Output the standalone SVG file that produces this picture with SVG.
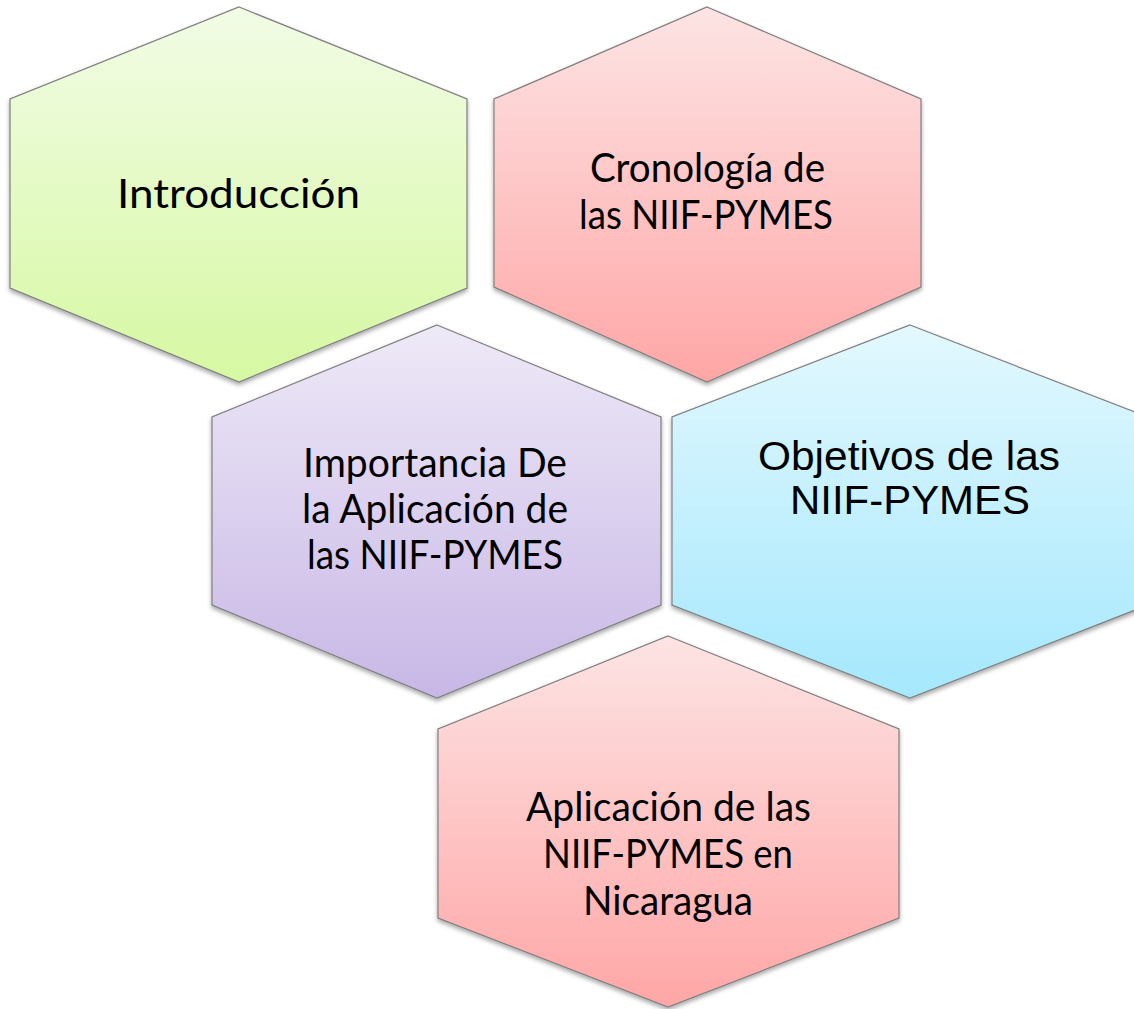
<svg xmlns="http://www.w3.org/2000/svg" width="1134" height="1009" viewBox="0 0 1134 1009">
<style>
.hex{stroke:#7f7f7f;stroke-width:1.2;filter:url(#sh)}
.c{font-family:Lato,"Open Sans","Noto Sans",sans-serif;font-size:41px;fill:#000;text-anchor:middle}
.a{font-family:"Liberation Sans",Arial,sans-serif;font-size:41px;fill:#000;text-anchor:middle}
</style>
<defs>
<filter id="sh" x="-10%" y="-10%" width="120%" height="125%">
<feDropShadow dx="0" dy="2.5" stdDeviation="2" flood-color="#000" flood-opacity="0.35"/>
</filter>
<linearGradient id="gG" x1="0" y1="0" x2="0" y2="1"><stop offset="0" stop-color="#f2fce6"/><stop offset="1" stop-color="#d6f8a2"/></linearGradient>
<linearGradient id="gP" x1="0" y1="0" x2="0" y2="1"><stop offset="0" stop-color="#fde4e4"/><stop offset="1" stop-color="#ffa6a6"/></linearGradient>
<linearGradient id="gV" x1="0" y1="0" x2="0" y2="1"><stop offset="0" stop-color="#eee9f7"/><stop offset="1" stop-color="#c8b7e6"/></linearGradient>
<linearGradient id="gB" x1="0" y1="0" x2="0" y2="1"><stop offset="0" stop-color="#e3f8fe"/><stop offset="1" stop-color="#a5e8fd"/></linearGradient>
</defs>
<g id="connectors"/>
<g id="n1">
<polygon class="hex" fill="url(#gG)" points="239,7 467,99 467,288 239,382 10,288 10,99"/>
<text class="c" x="238.5" y="208" textLength="243" lengthAdjust="spacingAndGlyphs">Introducción</text>
</g>
<g id="n2">
<polygon class="hex" fill="url(#gP)" points="707,7 921,99 921,287 707,382 494,287 494,99"/>
<text class="c" x="707.5" y="182" textLength="235" lengthAdjust="spacingAndGlyphs">Cronología de</text>
<text class="c" x="706" y="229" textLength="254" lengthAdjust="spacingAndGlyphs">las NIIF-PYMES</text>
</g>
<g id="n3">
<polygon class="hex" fill="url(#gV)" points="437,325 661,417 661,605 437,698 212,605 212,417"/>
<text class="c" x="435" y="477" textLength="264" lengthAdjust="spacingAndGlyphs">Importancia De</text>
<text class="c" x="435" y="523" textLength="266" lengthAdjust="spacingAndGlyphs">la Aplicación de</text>
<text class="c" x="435" y="569" textLength="256" lengthAdjust="spacingAndGlyphs">las NIIF-PYMES</text>
</g>
<g id="n4">
<polygon class="hex" fill="url(#gB)" points="910,325 1148,417 1148,605 910,698 672,605 672,417"/>
<text class="a" x="909" y="470" textLength="302" lengthAdjust="spacingAndGlyphs">Objetivos de las</text>
<text class="a" x="910" y="514" textLength="240" lengthAdjust="spacingAndGlyphs">NIIF-PYMES</text>
</g>
<g id="n5">
<polygon class="hex" fill="url(#gP)" points="668,636 899,729 899,918 668,1007 438,918 438,729"/>
<text class="c" x="668.5" y="821" textLength="285" lengthAdjust="spacingAndGlyphs">Aplicación de las</text>
<text class="c" x="668" y="868" textLength="250" lengthAdjust="spacingAndGlyphs">NIIF-PYMES en</text>
<text class="c" x="668" y="915" textLength="170" lengthAdjust="spacingAndGlyphs">Nicaragua</text>
</g>
</svg>
